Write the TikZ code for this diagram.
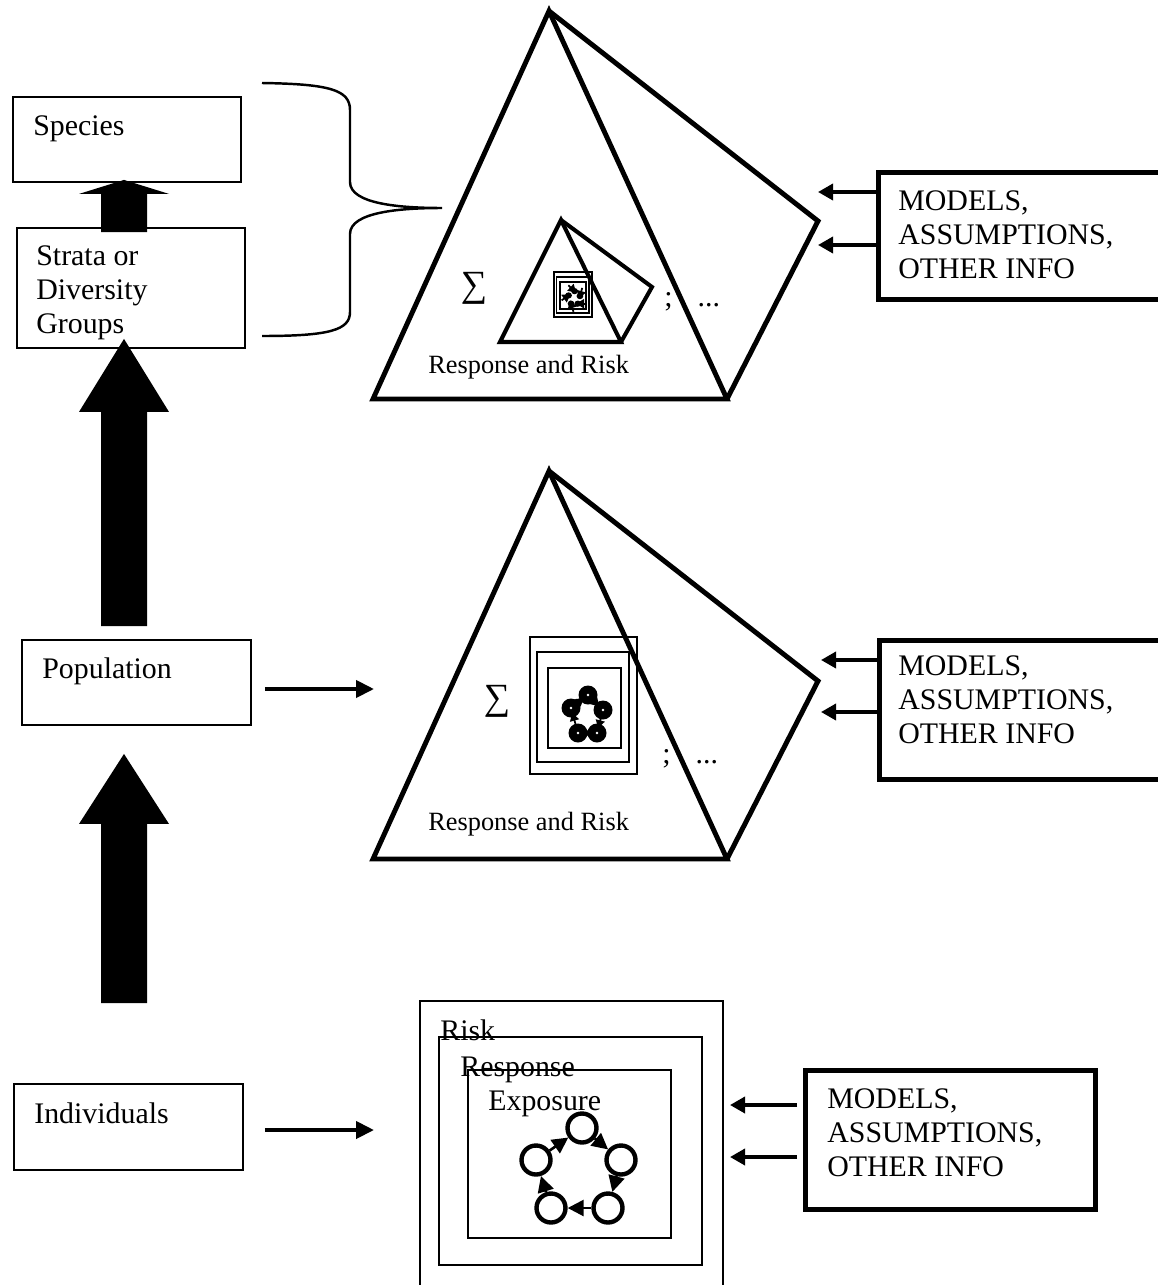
\documentclass[tikz,border=0pt]{standalone}
\usepackage{fontspec}
\setmainfont{Liberation Serif}
\usepackage{tikz}
\usetikzlibrary{arrows.meta, calc}

% fat upward arrow: tail, tip, head length
\newcommand{\blockarrow}[3]{%
  \fill ($(#1)+(-23,0)$) -- ($(#2)+(-23,#3)$) -- ($(#2)+(-45,#3)$) -- (#2)
    -- ($(#2)+(45,#3)$) -- ($(#2)+(23,#3)$) -- ($(#1)+(23,0)$) -- cycle;}

% small nested frames with the cell cycle inside
\newcommand{\cellgroup}{%
  \draw[frame] (0,0) rectangle (107,137);
  \draw[frame] (7,15) rectangle (99,125);
  \draw[frame] (18,31) rectangle (91,111);
  \foreach \bx/\by in {58/58, 73/73, 67/96, 48/96, 41/71}{
    \fill (\bx,\by) circle[radius=9.5];
    \fill[white] (\bx,\by) circle[radius=1.4];
  }
  \foreach \ax/\ay/\bx/\by in {41/71/58/58, 58/58/73/73, 73/73/67/96, 67/96/48/96, 48/96/41/71}
    \draw[blob] (\ax,\ay) -- (\bx,\by);
}

\tikzset{
  lvlbox/.style={draw, rectangle, line width=1.1pt, inner sep=0pt, anchor=north west},
  infobox/.style={draw, rectangle, line width=2.8pt, inner sep=0pt, anchor=north west},
  txt/.style={inner sep=0pt, anchor=base west, font=\fontsize{17}{19.5}\selectfont},
  mtxt/.style={inner sep=0pt, anchor=north west, align=left, font=\fontsize{17}{19.5}\selectfont},
  rrtxt/.style={inner sep=0pt, anchor=base west, font=\fontsize{15}{18}\selectfont},
  sumtxt/.style={inner sep=0pt, font=\fontsize{21}{24}\selectfont},
  pyr/.style={line width=2.8pt},
  frame/.style={line width=1.1pt},
  flow/.style={line width=2.3pt, -{Triangle[length=0.36cm, width=0.34cm]}},
  info/.style={line width=2pt, -{Triangle[length=0.3cm, width=0.32cm]}},
  cell/.style={draw, circle, line width=2.5pt, minimum size=0.58cm, inner sep=0pt},
  cyc/.style={line width=1.5pt, -{Triangle[length=0.32cm, width=0.32cm]}},
  blob/.style={line width=1pt, shorten <=0.17cm, shorten >=0.1cm, -{Triangle[length=0.16cm, width=0.18cm]}}
}

\begin{document}
\begin{tikzpicture}[x=0.02cm, y=-0.02cm]
	\useasboundingbox (0,0) rectangle (1157,1285);

	% levels on the left
	\node[lvlbox, minimum width=4.56cm, minimum height=1.70cm] (species) at (12,96) {};
	\node[lvlbox, minimum width=4.56cm, minimum height=2.40cm] (strata) at (16,227) {};
	\node[lvlbox, minimum width=4.58cm, minimum height=1.70cm] (pop) at (21,639) {};
	\node[lvlbox, minimum width=4.58cm, minimum height=1.72cm] (ind) at (13,1083) {};
	\node[txt] (speciestxt) at ($(species.north west)+(21,39)$) {Species};
	\node[mtxt] (stratatxt) at ($(strata.north west)+(20,18)$) {Strata or\\Diversity\\Groups};
	\node[txt] (poptxt) at ($(pop.north west)+(21,39)$) {Population};
	\node[txt] (indtxt) at ($(ind.north west)+(21,40)$) {Individuals};

	\coordinate (axis) at (124,0);
	\coordinate (up0s) at ($(strata.north -| axis)+(0,5)$);
	\coordinate (up0t) at ($(species.south -| axis)+(0,-3)$);
	\blockarrow{up0s}{up0t}{14}
	\coordinate (up1s) at ($(pop.north -| axis)+(0,-13)$);
	\coordinate (up1t) at ($(strata.south -| axis)+(0,-10)$);
	\blockarrow{up1s}{up1t}{73}
	\coordinate (up2s) at ($(ind.north -| axis)+(0,-80)$);
	\coordinate (up2t) at ($(pop.south -| axis)+(0,28)$);
	\blockarrow{up2s}{up2t}{70}

	% brace
	\draw[line width=1.4pt] (262,83) .. controls (330,84) and (350,90) .. (350,110) -- (350,182)
		.. controls (350,204) and (400,208) .. (442,208)
		.. controls (400,208) and (350,212) .. (350,234) -- (350,312)
		.. controls (350,330) and (330,336) .. (262,336);

	% species pyramid
	\coordinate (tA) at (549,11);
	\coordinate (tL) at (373,399);
	\coordinate (tR) at (727,399);
	\coordinate (tB) at (818,221);
	\draw[pyr] (tL) -- (tA) -- (tR) -- cycle;
	\draw[pyr] (tA) -- (tB) -- (tR);
	\draw[line width=2.3pt] (500,342) -- (561,220) -- (621,342) -- cycle;
	\draw[line width=2.3pt] (561,220) -- (652,287) -- (621,342);
	\begin{scope}[shift={(554,272)}, xscale=0.355, yscale=0.33]
		\cellgroup
	\end{scope}
	\node[sumtxt] (sum1) at (474,288) {∑};
	\node[txt] (etc1) at (664,306) {;\hspace{0.5cm}...};
	\node[rrtxt] (rr1) at (428,373) {Response and Risk};

	% population pyramid
	\coordinate (mA) at (549,471);
	\coordinate (mL) at (373,859);
	\coordinate (mR) at (727,859);
	\coordinate (mB) at (818,681);
	\draw[pyr] (mL) -- (mA) -- (mR) -- cycle;
	\draw[pyr] (mA) -- (mB) -- (mR);
	\begin{scope}[shift={(530,637)}]
		\cellgroup
	\end{scope}
	\node[sumtxt] (sum2) at (497,701) {∑};
	\node[txt] (etc2) at (662,763) {;\hspace{0.5cm}...};
	\node[rrtxt] (rr2) at (428,830) {Response and Risk};

	% individual level
	\draw[frame] (420,1001) rectangle (723,1300);
	\draw[frame] (439,1037) rectangle (702,1265);
	\draw[frame] (468,1070) rectangle (671,1238);
	\node[txt] (risk) at (440,1040) {Risk};
	\node[txt] (resp) at (460,1076) {Response};
	\node[txt] (expo) at (488,1110) {Exposure};
	\node[cell] (ct) at (582,1128) {};
	\node[cell] (cr) at (621,1160) {};
	\node[cell] (cbr) at (608,1208) {};
	\node[cell] (cbl) at (551,1208) {};
	\node[cell] (cl) at (536,1160) {};
	\foreach \a/\b in {cl/ct, ct/cr, cr/cbr, cbr/cbl, cbl/cl}
		\draw[cyc] (\a) -- (\b);

	% level to model arrows
	\coordinate (pin) at (374,689);
	\coordinate (iin) at (374,1130);
	\draw[flow, shorten <=0.26cm] (pop.east |- pin) -- (pin);
	\draw[flow, shorten <=0.42cm] (ind.east |- iin) -- (iin);

	% model inputs
	\node[infobox, minimum width=6.5cm, minimum height=2.54cm] (mod1) at (876,170) {};
	\node[infobox, minimum width=6.5cm, minimum height=2.78cm] (mod2) at (877,638) {};
	\node[infobox, minimum width=5.80cm, minimum height=2.78cm] (mod3) at (803,1068) {};
	\node[mtxt] (mod1txt) at ($(mod1.north west)+(22,20)$) {MODELS,\\ASSUMPTIONS,\\OTHER INFO};
	\node[mtxt] (mod2txt) at ($(mod2.north west)+(21,17)$) {MODELS,\\ASSUMPTIONS,\\OTHER INFO};
	\node[mtxt] (mod3txt) at ($(mod3.north west)+(24,20)$) {MODELS,\\ASSUMPTIONS,\\OTHER INFO};
	\coordinate (m1a) at (818,192);
	\coordinate (m1b) at (818,245);
	\coordinate (m2a) at (821,660);
	\coordinate (m2b) at (821,712);
	\coordinate (m3a) at (730,1105);
	\coordinate (m3b) at (730,1157);
	\draw[info] (mod1.west |- m1a) -- (m1a);
	\draw[info] (mod1.west |- m1b) -- (m1b);
	\draw[info] (mod2.west |- m2a) -- (m2a);
	\draw[info] (mod2.west |- m2b) -- (m2b);
	\draw[info, shorten <=0.12cm] (mod3.west |- m3a) -- (m3a);
	\draw[info, shorten <=0.12cm] (mod3.west |- m3b) -- (m3b);
\end{tikzpicture}
\end{document}
